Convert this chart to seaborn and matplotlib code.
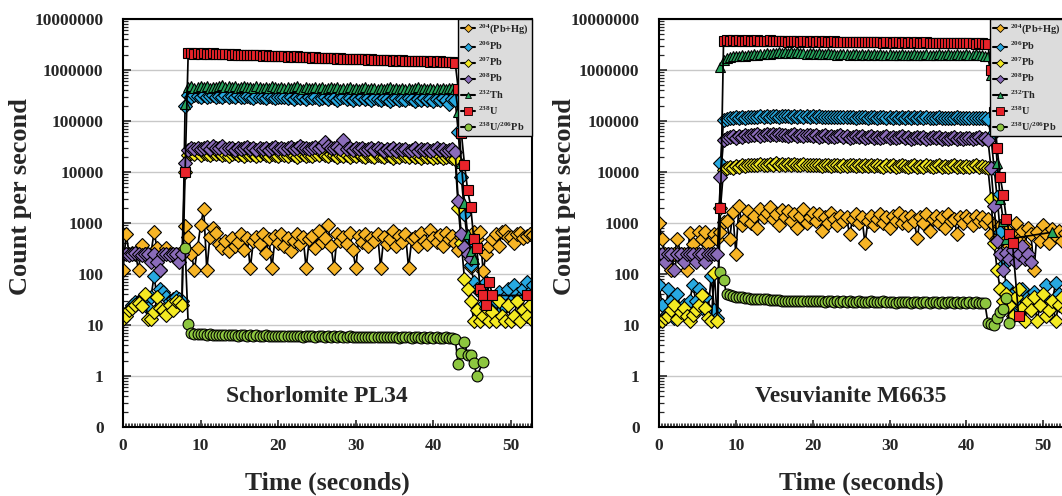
import numpy as np
import matplotlib
matplotlib.use("Agg")
import matplotlib.pyplot as plt
from matplotlib.lines import Line2D
from matplotlib.ticker import FixedLocator, LogLocator, MultipleLocator, NullFormatter
import seaborn as sns

nan = float("nan")

# ---------------------------------------------------------------- data
# acquisition time grid (s)
TIME = np.round(np.arange(133) * 0.4, 1)

LEGEND_LABELS = [r"$^{204}$(Pb+Hg)", r"$^{206}$Pb", r"$^{207}$Pb", r"$^{208}$Pb",
                 r"$^{232}$Th", r"$^{238}$U", r"$^{238}$U/$^{206}$Pb"]
PANEL_TITLES = ["Schorlomite PL34", "Vesuvianite M6635"]
Y_TICKS = [0.1, 1, 10, 100, 1000, 10000, 100000, 1000000, 10000000]
Y_TICK_LABELS = ["0", "1", "10", "100", "1000", "10000", "100000", "1000000", "10000000"]
X_TICKS = [0, 10, 20, 30, 40, 50]

# --- Schorlomite PL34: background (0-7.6 s), ablation onset (8.0 s),
#     signal (8.4-42.8 s), washout (43.2-52.8 s)
PL34_PB204 = (
    [120, 600, 250, 260, 250, 120, 370, 250, 240, 250, 660, 320, 120, 250, 320, 250, 240, 250, 250, 250]
    + [880]
    + [540, 250, 120, 320, 900, 1880, 120, 540, 800, 640,
       380, 320, 450, 280, 500, 350, 420, 600, 300, 500,
       130, 450, 520, 380, 600, 260, 480, 130, 550, 400,
       620, 350, 500, 280, 450, 600, 380, 520, 130, 480,
       560, 320, 700, 420, 500, 900, 350, 130, 600, 450,
       520, 380, 650, 300, 130, 550, 420, 600, 350, 500,
       450, 620, 130, 520, 380, 480, 700, 350, 550, 420,
       600, 130, 480, 520, 350, 650, 450, 380, 720, 500,
       420, 580, 350, 650, 480, 560, 400]
    + [300, 520, 380, 250, 140, 660, 490, 660, 115, 250, 350, 480, 610,
       350, 660, 700, 520, 530, 400, 600, 650, 500, 550, 620, 580]
)
PL34_PB206 = (
    [15, 17, 20, 25, 28, 30, 32, 30, 22, 35, 90, 35, 50, 45, 35, 30, 32, 35, 32, 30]
    + [2.0e5]
    + [3.2e5, 3.0e5, 3.3e5, 3.1e5, 2.9e5, 3.2e5, 3.0e5, 3.1e5, 3.3e5, 3.0e5,
       3.1e5, 2.9e5, 3.2e5, 3.0e5, 3.1e5, 2.9e5, 3.2e5, 3.0e5, 2.9e5, 3.1e5,
       3.0e5, 2.8e5, 3.1e5, 2.9e5, 3.0e5, 2.8e5, 3.1e5, 2.9e5, 2.8e5, 3.0e5,
       2.9e5, 3.0e5, 2.8e5, 2.9e5, 2.7e5, 3.0e5, 2.8e5, 2.9e5, 2.7e5, 2.9e5,
       2.8e5, 2.9e5, 2.7e5, 2.8e5, 3.0e5, 2.7e5, 2.9e5, 2.8e5, 2.6e5, 2.8e5,
       2.9e5, 2.7e5, 2.8e5, 2.6e5, 2.8e5, 2.7e5, 2.9e5, 2.7e5, 2.8e5, 2.6e5,
       2.8e5, 2.7e5, 2.6e5, 2.8e5, 2.7e5, 2.5e5, 2.7e5, 2.8e5, 2.6e5, 2.7e5,
       2.6e5, 2.8e5, 2.7e5, 2.5e5, 2.7e5, 2.6e5, 2.8e5, 2.6e5, 2.7e5, 2.5e5,
       2.7e5, 2.6e5, 2.8e5, 2.6e5, 2.2e5, 2.7e5, 2.6e5]
    + [6e4, 8000, 1500, 400, 150, 70, 50, 45, 25, 70, 20, 35, 30,
       45, 20, 35, 50, 30, 60, 40, 35, 50, 70, 45, 60]
)
PL34_PB207 = (
    [13, 15, 20, 22, 25, 27, 24, 40, 13, 13, 18, 35, 22, 20, 16, 25, 20, 30, 28, 25]
    + [1.0e4]
    + [2.2e4, 2.4e4, 2.3e4, 2.5e4, 2.2e4, 2.4e4, 2.3e4, 2.2e4, 2.4e4, 2.3e4,
       2.4e4, 2.2e4, 2.3e4, 2.1e4, 2.3e4, 2.4e4, 2.2e4, 2.3e4, 2.1e4, 2.3e4,
       2.2e4, 2.3e4, 2.1e4, 2.2e4, 2.4e4, 2.2e4, 2.1e4, 2.3e4, 2.2e4, 2.1e4,
       2.3e4, 2.2e4, 2.1e4, 2.3e4, 2.2e4, 2.0e4, 2.2e4, 2.3e4, 2.1e4, 2.2e4,
       2.1e4, 2.3e4, 2.2e4, 2.4e4, 2.2e4, 2.1e4, 2.3e4, 2.2e4, 2.0e4, 2.2e4,
       2.1e4, 2.2e4, 2.0e4, 2.2e4, 2.1e4, 2.3e4, 2.1e4, 2.0e4, 2.2e4, 2.1e4,
       2.0e4, 2.2e4, 2.1e4, 2.0e4, 2.2e4, 2.1e4, 1.9e4, 2.1e4, 2.0e4, 2.2e4,
       2.1e4, 2.0e4, 2.2e4, 2.0e4, 2.1e4, 1.9e4, 2.1e4, 2.0e4, 2.1e4, 1.9e4,
       2.0e4, 2.1e4, 1.9e4, 2.0e4, 2.1e4, 1.9e4, 1.8e4]
    + [2000, 400, 80, 50, 30, 12, 20, 12, 15, 22, 12, 18, 12,
       30, 15, 12, 25, 12, 15, 30, 12, 20, 15, 25, 12]
)
PL34_PB208 = (
    [250, 250, 240, 250, 260, 250, 240, 250, 250, 170, 250, 170, 120, 250, 250, 240, 250, 250, 170, 250]
    + [1.5e4]
    + [2.7e4, 2.9e4, 2.8e4, 3.0e4, 2.8e4, 2.9e4, 3.1e4, 2.8e4, 3.3e4, 3.0e4,
       2.9e4, 3.2e4, 2.8e4, 3.0e4, 2.9e4, 2.7e4, 3.0e4, 2.8e4, 2.9e4, 3.1e4,
       2.8e4, 3.0e4, 2.7e4, 2.9e4, 2.8e4, 3.0e4, 2.7e4, 2.9e4, 3.1e4, 2.8e4,
       3.0e4, 2.8e4, 2.9e4, 3.1e4, 2.8e4, 3.0e4, 3.2e4, 2.9e4, 3.0e4, 2.8e4,
       2.9e4, 3.1e4, 3.0e4, 3.3e4, 3.8e4, 3.2e4, 3.0e4, 2.9e4, 3.1e4, 2.8e4,
       4.2e4, 2.8e4, 2.9e4, 2.7e4, 2.9e4, 2.8e4, 3.0e4, 2.7e4, 2.8e4, 2.9e4,
       2.7e4, 2.9e4, 2.8e4, 2.6e4, 2.8e4, 2.7e4, 2.9e4, 2.6e4, 2.8e4, 2.7e4,
       2.8e4, 2.6e4, 2.7e4, 2.9e4, 2.6e4, 2.8e4, 2.7e4, 2.8e4, 2.6e4, 2.7e4,
       2.9e4, 2.7e4, 2.8e4, 2.6e4, 2.7e4, 2.8e4, 2.5e4]
    + [2700, 600, 340, 250, 200] + [nan] * 20
)
PL34_TH232 = (
    [nan] * 20
    + [2.2e5]
    + [4.6e5, 4.8e5, 4.5e5, 4.7e5, 4.9e5, 4.6e5, 4.8e5, 4.5e5, 4.7e5, 4.6e5,
       4.8e5, 5.0e5, 4.7e5, 4.9e5, 4.6e5, 4.8e5, 4.5e5, 4.7e5, 4.9e5, 4.6e5,
       4.7e5, 4.5e5, 4.8e5, 4.6e5, 4.4e5, 4.7e5, 4.5e5, 4.8e5, 4.6e5, 4.4e5,
       4.6e5, 4.5e5, 4.7e5, 4.4e5, 4.6e5, 4.8e5, 4.5e5, 4.3e5, 4.6e5, 4.4e5,
       4.5e5, 4.7e5, 4.4e5, 4.6e5, 4.3e5, 4.5e5, 4.7e5, 4.4e5, 4.6e5, 4.3e5,
       4.5e5, 4.4e5, 4.6e5, 4.3e5, 4.5e5, 4.2e5, 4.4e5, 4.6e5, 4.3e5, 4.5e5,
       4.4e5, 4.2e5, 4.5e5, 4.3e5, 4.4e5, 4.6e5, 4.3e5, 4.5e5, 4.2e5, 4.4e5,
       4.3e5, 4.5e5, 4.2e5, 4.4e5, 4.6e5, 4.3e5, 4.5e5, 4.2e5, 4.4e5, 4.3e5,
       4.5e5, 4.2e5, 4.4e5, 4.3e5, 4.5e5, 4.4e5, 4.2e5]
    + [1.5e5, 1.5e4, 2500, 600, 280, 200] + [nan] * 19
)
PL34_U238 = (
    [nan] * 20
    + [1.0e4]
    + [2.12e6, 2.15e6, 2.10e6, 2.13e6, 2.08e6, 2.11e6, 2.06e6, 2.09e6, 2.12e6, 2.07e6,
       2.04e6, 2.08e6, 2.02e6, 2.05e6, 1.99e6, 2.03e6, 1.98e6, 2.01e6, 1.97e6, 1.99e6,
       1.95e6, 1.98e6, 1.93e6, 1.96e6, 1.91e6, 1.94e6, 1.90e6, 1.88e6, 1.92e6, 1.87e6,
       1.85e6, 1.88e6, 1.83e6, 1.86e6, 1.81e6, 1.84e6, 1.80e6, 1.78e6, 1.81e6, 1.76e6,
       1.74e6, 1.77e6, 1.72e6, 1.75e6, 1.70e6, 1.73e6, 1.69e6, 1.71e6, 1.67e6, 1.70e6,
       1.66e6, 1.68e6, 1.64e6, 1.67e6, 1.62e6, 1.65e6, 1.61e6, 1.63e6, 1.59e6, 1.62e6,
       1.58e6, 1.60e6, 1.56e6, 1.59e6, 1.55e6, 1.57e6, 1.53e6, 1.56e6, 1.52e6, 1.54e6,
       1.51e6, 1.53e6, 1.49e6, 1.52e6, 1.48e6, 1.50e6, 1.47e6, 1.49e6, 1.46e6, 1.48e6,
       1.45e6, 1.47e6, 1.44e6, 1.46e6, 1.43e6, 1.45e6, 1.40e6]
    + [4.2e5, 5.8e4, 1.4e4, 4500, 2100, 480, 320, 50, 38, 25, 70, 38]
    + [nan] * 10 + [38, nan, nan]
)
PL34_U_PB = (
    [nan] * 20
    + [320]
    + [10.5, 7.0, 6.8, 6.7, 6.6, 6.7, 6.5, 6.6, 6.4, 6.5,
       6.4, 6.5, 6.3, 6.4, 6.3, 6.4, 6.2, 6.3, 6.4, 6.2,
       6.3, 6.2, 6.3, 6.1, 6.2, 6.3, 6.1, 6.2, 6.0, 6.2,
       6.1, 6.2, 6.0, 6.1, 6.2, 6.0, 6.1, 5.9, 6.1, 6.0,
       6.1, 5.9, 6.0, 6.1, 5.9, 6.0, 5.8, 6.0, 5.9, 6.0,
       5.8, 5.9, 6.0, 5.8, 5.9, 5.8, 5.9, 5.7, 5.9, 5.8,
       5.9, 5.7, 5.8, 5.9, 5.7, 5.8, 5.7, 5.8, 5.6, 5.8,
       5.7, 5.8, 5.6, 5.7, 5.8, 5.6, 5.7, 5.5, 5.7, 5.6,
       5.7, 5.5, 5.6, 5.7, 5.5, 5.6, 5.4]
    + [1.7, 2.8, 4.6, 2.6, 2.6, 1.8, 1.0, nan, 1.9] + [nan] * 16
)

# --- Vesuvianite M6635
M6635_PB204 = (
    [1000, 480, 250, 250, 120, 250, 480, 250, 250, 120, 640, 380, 250, 660, 480, 660, 380, 250, 600, 480]
    + [660]
    + [1050, 1100, 480, 1650, 250, 2150, 900, 1200, 1700, 1000,
       1400, 800, 1900, 1300, 1600, 2100, 1200, 1500, 900, 1800,
       1300, 1700, 1100, 1500, 800, 1400, 1900, 1000, 1300, 1600,
       1100, 1500, 700, 1300, 1000, 1600, 1200, 900, 1400, 1100,
       1300, 600, 1200, 1500, 1000, 1300, 400, 1100, 1400, 900,
       1200, 1500, 1000, 1300, 800, 1400, 1100, 1600, 1000, 1300,
       900, 1400, 1100, 500, 1300, 1000, 1500, 700, 1200, 1400,
       1000, 1300, 800, 1500, 1100, 1200, 600, 1300, 1000, 1400,
       1200, 900, 1400, 1100, 1300, 1000, 1200]
    + [600, 900, 500, 870, 480, 760, 350, 600, 1000, 480, 700, 350, 800,
       600, 120, 660, 450, 900, 600, 400, 750, 550, 700, 450, 650]
)
M6635_PB206 = (
    [60, 25, 15, 50, 30, 14, 40, 20, 25, 18, 30, 60, 30, 50, 22, 35, 20, 90, 20, 14]
    + [1.5e4]
    + [1.05e5, 1.1e5, 1.15e5, 1.12e5, 1.18e5, 1.15e5, 1.2e5, 1.17e5, 1.22e5, 1.18e5,
       1.22e5, 1.2e5, 1.25e5, 1.21e5, 1.24e5, 1.2e5, 1.23e5, 1.26e5, 1.22e5, 1.25e5,
       1.23e5, 1.26e5, 1.22e5, 1.25e5, 1.21e5, 1.24e5, 1.2e5, 1.23e5, 1.21e5, 1.24e5,
       1.2e5, 1.23e5, 1.19e5, 1.22e5, 1.2e5, 1.18e5, 1.21e5, 1.19e5, 1.22e5, 1.18e5,
       1.21e5, 1.18e5, 1.2e5, 1.17e5, 1.2e5, 1.18e5, 1.21e5, 1.17e5, 1.19e5, 1.2e5,
       1.17e5, 1.2e5, 1.18e5, 1.16e5, 1.19e5, 1.17e5, 1.2e5, 1.16e5, 1.18e5, 1.17e5,
       1.19e5, 1.16e5, 1.18e5, 1.15e5, 1.18e5, 1.16e5, 1.19e5, 1.15e5, 1.17e5, 1.16e5,
       1.18e5, 1.15e5, 1.17e5, 1.14e5, 1.17e5, 1.15e5, 1.18e5, 1.14e5, 1.16e5, 1.15e5,
       1.17e5, 1.14e5, 1.16e5, 1.13e5, 1.15e5, 1.12e5, 1.1e5]
    + [5e4, 1.2e4, 3200, 660, 150, 58, 25, 40, 20, 30, 50, 25, 36,
       20, 45, 30, 25, 35, 60, 20, 30, 67, 40, 25, 30]
)
M6635_PB207 = (
    [12, 12, 14, 15, 20, 25, 13, 18, 22, 15, 12, 16, 20, 25, 38, 22, 14, 12, 105, 12]
    + [2000]
    + [1.1e4, 1.2e4, 1.25e4, 1.2e4, 1.3e4, 1.25e4, 1.35e4, 1.3e4, 1.4e4, 1.35e4,
       1.4e4, 1.35e4, 1.45e4, 1.4e4, 1.35e4, 1.45e4, 1.4e4, 1.5e4, 1.4e4, 1.45e4,
       1.4e4, 1.45e4, 1.35e4, 1.45e4, 1.4e4, 1.35e4, 1.45e4, 1.4e4, 1.35e4, 1.4e4,
       1.35e4, 1.4e4, 1.3e4, 1.4e4, 1.35e4, 1.3e4, 1.4e4, 1.35e4, 1.3e4, 1.35e4,
       1.3e4, 1.35e4, 1.4e4, 1.3e4, 1.35e4, 1.3e4, 1.35e4, 1.3e4, 1.4e4, 1.3e4,
       1.35e4, 1.3e4, 1.25e4, 1.35e4, 1.3e4, 1.35e4, 1.25e4, 1.3e4, 1.35e4, 1.3e4,
       1.25e4, 1.3e4, 1.35e4, 1.25e4, 1.3e4, 1.25e4, 1.35e4, 1.3e4, 1.25e4, 1.3e4,
       1.35e4, 1.25e4, 1.3e4, 1.25e4, 1.3e4, 1.35e4, 1.25e4, 1.3e4, 1.25e4, 1.3e4,
       1.25e4, 1.3e4, 1.35e4, 1.25e4, 1.3e4, 1.25e4, 1.2e4]
    + [3000, 400, 120, 50, 30, 40, 25, 15, 35, 50, 22, 12, 30,
       20, 35, 12, 25, 40, 15, 20, 30, 12, 25, 35, 20]
)
M6635_PB208 = (
    [250, 250, 170, 250, 250, 120, 250, 250, 170, 250, 250, 250, 170, 250, 250, 170, 250, 250, 250, 250]
    + [8000]
    + [4.2e4, 4.6e4, 4.8e4, 5.0e4, 4.7e4, 5.1e4, 4.9e4, 5.3e4, 5.0e4, 5.4e4,
       5.2e4, 5.5e4, 5.1e4, 5.4e4, 5.6e4, 5.2e4, 5.5e4, 5.3e4, 5.6e4, 5.2e4,
       5.4e4, 5.1e4, 5.3e4, 5.5e4, 5.1e4, 5.3e4, 5.0e4, 5.2e4, 5.4e4, 5.0e4,
       5.2e4, 4.9e4, 5.1e4, 5.3e4, 4.9e4, 5.1e4, 4.8e4, 5.0e4, 5.2e4, 4.8e4,
       5.0e4, 4.7e4, 4.9e4, 5.1e4, 4.8e4, 5.0e4, 4.7e4, 4.9e4, 5.1e4, 4.7e4,
       4.9e4, 4.6e4, 4.8e4, 5.0e4, 4.7e4, 4.9e4, 4.6e4, 4.8e4, 5.0e4, 4.6e4,
       4.8e4, 4.5e4, 4.7e4, 4.9e4, 4.6e4, 4.8e4, 4.5e4, 4.7e4, 4.9e4, 4.6e4,
       4.8e4, 4.5e4, 4.7e4, 4.4e4, 4.6e4, 4.8e4, 4.5e4, 4.7e4, 4.4e4, 4.6e4,
       4.7e4, 4.4e4, 4.6e4, 4.8e4, 4.5e4, 4.6e4, 4.3e4]
    + [1.2e4, 2150, 440, 250, 120, 260, 200, 300, 170, 250, 350, 200, 250,
       170, nan, nan, nan, nan, nan, nan, nan, nan, nan, nan, nan]
)
M6635_TH232 = (
    [nan] * 20
    + [1.15e6]
    + [1.6e6, 1.75e6, 1.8e6, 1.85e6, 1.9e6, 1.85e6, 1.95e6, 1.9e6, 2.0e6, 1.95e6,
       2.05e6, 2.0e6, 2.1e6, 2.05e6, 2.15e6, 2.1e6, 2.2e6, 2.15e6, 2.25e6, 2.2e6,
       2.25e6, 2.2e6, 2.3e6, 2.2e6, 2.25e6, 2.15e6, 2.2e6, 2.1e6, 2.15e6, 2.2e6,
       2.1e6, 2.15e6, 2.05e6, 2.1e6, 2.15e6, 2.05e6, 2.1e6, 2.0e6, 2.1e6, 2.05e6,
       2.1e6, 2.0e6, 2.05e6, 2.1e6, 2.0e6, 2.05e6, 1.95e6, 2.05e6, 2.0e6, 2.1e6,
       2.0e6, 2.05e6, 1.95e6, 2.0e6, 2.05e6, 1.95e6, 2.0e6, 1.95e6, 2.05e6, 2.0e6,
       1.95e6, 2.0e6, 2.05e6, 1.95e6, 2.0e6, 1.95e6, 2.05e6, 2.0e6, 1.95e6, 2.0e6,
       2.05e6, 1.95e6, 2.0e6, 2.05e6, 1.95e6, 2.0e6, 2.05e6, 1.95e6, 2.0e6, 2.05e6,
       1.95e6, 2.0e6, 2.05e6, 1.95e6, 2.0e6, 1.9e6, 1.85e6]
    + [8e5, 1e5, 1.5e4, 3000, 1100, 480] + [nan] * 14 + [660] + [nan] * 4
)
M6635_U238 = (
    [nan] * 20
    + [2000]
    + [3.7e6, 3.8e6, 3.75e6, 3.85e6, 3.7e6, 3.8e6, 3.75e6, 3.7e6, 3.8e6, 3.75e6,
       3.7e6, 3.8e6, 3.65e6, 3.75e6, 3.7e6, 3.8e6, 3.65e6, 3.7e6, 3.75e6, 3.65e6,
       3.7e6, 3.6e6, 3.75e6, 3.65e6, 3.7e6, 3.6e6, 3.7e6, 3.65e6, 3.6e6, 3.7e6,
       3.6e6, 3.65e6, 3.55e6, 3.65e6, 3.6e6, 3.55e6, 3.65e6, 3.6e6, 3.55e6, 3.6e6,
       3.55e6, 3.6e6, 3.5e6, 3.6e6, 3.55e6, 3.5e6, 3.6e6, 3.55e6, 3.5e6, 3.55e6,
       3.5e6, 3.55e6, 3.45e6, 3.55e6, 3.5e6, 3.45e6, 3.5e6, 3.55e6, 3.45e6, 3.5e6,
       3.45e6, 3.5e6, 3.4e6, 3.5e6, 3.45e6, 3.4e6, 3.5e6, 3.45e6, 3.4e6, 3.45e6,
       3.4e6, 3.45e6, 3.35e6, 3.45e6, 3.4e6, 3.35e6, 3.45e6, 3.4e6, 3.35e6, 3.4e6,
       3.35e6, 3.4e6, 3.3e6, 3.4e6, 3.35e6, 3.3e6, 3.3e6]
    + [1.0e6, 1.5e5, 3e4, 8000, 3500, 1200, 600, 400, nan, 15] + [nan] * 15
)
M6635_U_PB = (
    [nan] * 20
    + [110]
    + [76, 40, 38, 37, 36, 35, 35, 34, 34, 33,
       33, 33, 32, 32, 32, 31, 31, 31, 31, 30,
       30, 30, 30, 30, 29, 30, 29, 29, 30, 29,
       29, 29, 29, 28, 29, 29, 28, 29, 28, 29,
       28, 29, 28, 28, 29, 28, 28, 28, 29, 28,
       28, 28, 29, 28, 28, 28, 27, 28, 28, 28,
       28, 27, 28, 28, 27, 28, 28, 27, 28, 28,
       27, 28, 27, 28, 28, 27, 28, 27, 28, 27,
       28, 27, 28, 27, 27, 27, 11]
    + [10.5, 10, 14, 18, 21, 34, 11] + [nan] * 18
)

PANELS = [
    [PL34_PB204, PL34_PB206, PL34_PB207, PL34_PB208, PL34_TH232, PL34_U238, PL34_U_PB],
    [M6635_PB204, M6635_PB206, M6635_PB207, M6635_PB208, M6635_TH232, M6635_U238, M6635_U_PB],
]

# ---------------------------------------------------------------- styles
MARKERS = ["D", "D", "D", "D", "^", "s", "o"]
FACE_COLORS = ["#F6B426", "#27A9E1", "#F4EA22", "#8B6CBA", "#26A35C", "#E8232A", "#8DC63F"]
MARKER_SIZES = [6.8, 6.8, 6.8, 6.8, 7.0, 7.8, 7.8]

sns.set_style("white")
plt.rcParams["font.family"] = ["Liberation Serif", "DejaVu Serif"]
plt.rcParams["font.weight"] = "bold"
plt.rcParams["mathtext.fontset"] = "custom"
plt.rcParams["mathtext.rm"] = "Liberation Serif:bold"
plt.rcParams["mathtext.bf"] = "Liberation Serif:bold"
plt.rcParams["mathtext.it"] = "Liberation Serif:italic:bold"
plt.rcParams["mathtext.default"] = "rm"

W, H = 1062, 496
fig = plt.figure(figsize=(W / 100, H / 100), dpi=100)
fig.patch.set_facecolor("white")
axes = [
    fig.add_axes([123 / W, 1 - 427 / H, 409 / W, 408 / H]),
    fig.add_axes([659 / W, 1 - 427 / H, 405 / W, 408 / H]),
]
ylabel_x = [-0.222, -0.205]

for ax, series, title, ylx in zip(axes, PANELS, PANEL_TITLES, ylabel_x):
    for vals, mk, fc, ms in zip(series, MARKERS, FACE_COLORS, MARKER_SIZES):
        n = min(len(TIME), len(vals))
        sns.lineplot(x=TIME[:n], y=np.asarray(vals[:n], dtype=float), ax=ax,
                     color="black", lw=1.25, marker=mk, markersize=ms,
                     markerfacecolor=fc, markeredgecolor="black",
                     markeredgewidth=0.8, estimator=None, sort=False, legend=False)

    ax.set_yscale("log")
    ax.set_ylim(0.1, 1e7)
    ax.set_xlim(0, 52.7)
    ax.yaxis.set_major_locator(FixedLocator(Y_TICKS))
    ax.set_yticklabels(Y_TICK_LABELS)
    ax.yaxis.set_minor_locator(LogLocator(base=10, subs=np.arange(2, 10), numticks=20))
    ax.yaxis.set_minor_formatter(NullFormatter())
    ax.set_xticks(X_TICKS)
    ax.set_xticklabels([str(v) for v in X_TICKS])
    ax.xaxis.set_minor_locator(MultipleLocator(0.2))

    ax.tick_params(axis="y", which="major", direction="in", length=6, width=1.2,
                   labelsize=12.5, pad=14, left=True, right=False)
    ax.tick_params(axis="y", which="minor", direction="in", length=3.5, width=0.9,
                   left=True, right=False)
    ax.tick_params(axis="x", which="major", direction="in", length=5, width=1.2,
                   labelsize=12.5, pad=8, bottom=True, top=False)
    ax.tick_params(axis="x", which="minor", direction="in", length=3, width=0.6,
                   bottom=True, top=False)
    for lab in ax.get_xticklabels() + ax.get_yticklabels():
        lab.set_fontweight("bold")

    ax.yaxis.grid(True, which="major", color="#C8C8C8", lw=1.0)
    ax.xaxis.grid(False)
    ax.set_axisbelow(True)
    for sp in ax.spines.values():
        sp.set_color("black")
        sp.set_linewidth(1.5)

    ax.set_ylabel("Count per second", fontsize=19, fontweight="bold")
    ax.yaxis.set_label_coords(ylx, 0.565)
    ax.set_xlabel("Time (seconds)", fontsize=18.5, fontweight="bold")
    ax.xaxis.set_label_coords(0.5, -0.11)

    ax.text(25, 0.4, title, ha="center", va="center", fontsize=17, fontweight="bold")

    handles = [Line2D([0], [0], color="black", lw=1.5, marker=mk, markersize=ms * 0.65,
                      markerfacecolor=fc, markeredgecolor="black", markeredgewidth=0.6)
               for mk, fc, ms in zip(MARKERS, FACE_COLORS, MARKER_SIZES)]
    leg = ax.legend(handles, LEGEND_LABELS, loc="upper right", borderaxespad=0,
                    fontsize=7.5, handlelength=1.3, handletextpad=0.3,
                    labelspacing=0.36, borderpad=0.3, frameon=True, fancybox=False,
                    framealpha=1, facecolor="#DCDCDC", edgecolor="black")
    leg.get_frame().set_linewidth(1.0)
    for t in leg.get_texts():
        t.set_fontweight("bold")

fig.savefig("out.png", dpi=100)
